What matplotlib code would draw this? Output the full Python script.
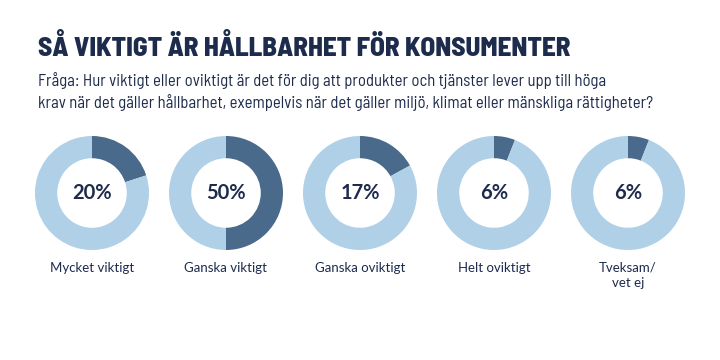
import matplotlib.pyplot as plt

title = "SÅ VIKTIGT ÄR HÅLLBARHET FÖR KONSUMENTER"
question = ("Fråga: Hur viktigt eller oviktigt är det för dig att produkter och tjänster lever upp till höga\n"
            "krav när det gäller hållbarhet, exempelvis när det gäller miljö, klimat eller mänskliga rättigheter?")
categories = ["Mycket viktigt", "Ganska viktigt", "Ganska oviktigt", "Helt oviktigt", "Tveksam/\nvet ej"]
shares = [20, 50, 17, 6, 6]

dark = "#4a6a8b"
light = "#afd0e7"
navy = "#1d2b4c"
narrow = ["Barlow Semi Condensed", "Barlow Condensed", "Roboto Condensed", "DejaVu Sans"]
geo = ["Lato", "DejaVu Sans"]

W, H = 720, 360
fig = plt.figure(figsize=(7.2, 3.6), dpi=100)
fig.patch.set_facecolor("white")

fig.text(38 / W, 1 - 48 / H, title, fontsize=19.5, fontweight=800, color=navy,
         family=narrow, va="center", ha="left")
fig.text(38 / W, 1 - 91.5 / H, question, fontsize=12, color=navy, family=narrow,
         va="center", ha="left", linespacing=1.35)

centers = [92, 226, 360, 494, 628]
cy = 193
r = 57
for cx, cat, val in zip(centers, categories, shares):
    ax = fig.add_axes([(cx - r) / W, 1 - (cy + r) / H, 2 * r / W, 2 * r / H])
    ax.pie([val, 100 - val], colors=[dark, light], startangle=90, counterclock=False,
           radius=1, wedgeprops=dict(width=0.39, linewidth=0))
    ax.set_xlim(-1, 1)
    ax.set_ylim(-1, 1)
    ax.set_aspect("equal")
    ax.axis("off")
    ax.text(0, 0, f"{val}%", ha="center", va="center", fontsize=14.5, fontweight="bold",
            color=navy, family=geo)
    fig.text(cx / W, 1 - 262 / H, cat, ha="center", va="top", fontsize=9.5,
             color=navy, family=geo, linespacing=1.3)

fig.savefig("out.png", dpi=100)
